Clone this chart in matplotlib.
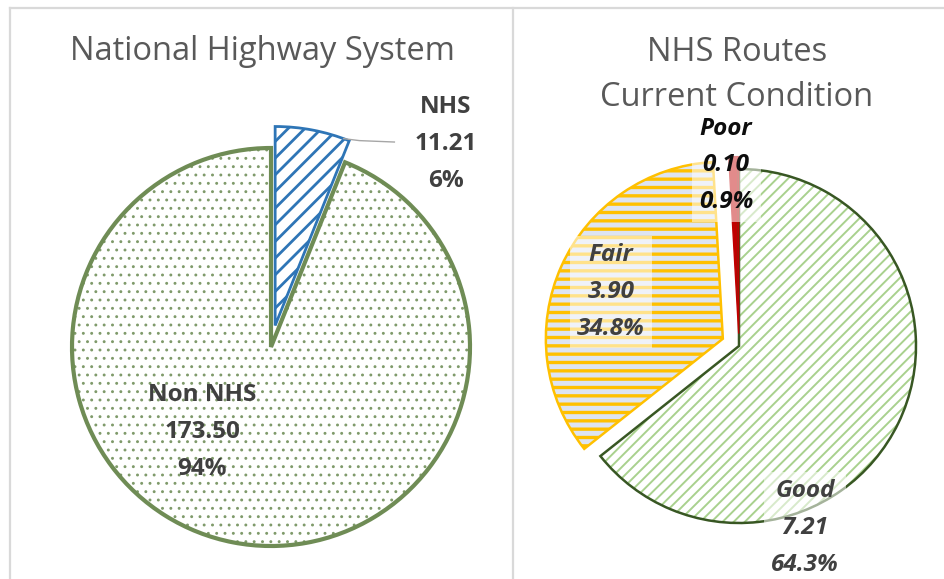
import numpy as np
import matplotlib
matplotlib.use("Agg")
import matplotlib.pyplot as plt
from matplotlib.lines import Line2D

# ---------------- data ----------------
left_title = "National Highway System"
left_labels = ["NHS", "Non NHS"]
left_values = [11.21, 173.50]

right_title = "NHS Routes\nCurrent Condition"
right_labels = ["Good", "Fair", "Poor"]
right_values = [7.21, 3.90, 0.10]

# ---------------- style / layout ----------------
W, H, DPI = 945, 579, 100
FONT = ["Open Sans", "DejaVu Sans"]
plt.rcParams["font.family"] = FONT

TITLE_COLOR = "#595959"
LABEL_COLOR = "#404040"
FRAME_COLOR = "#d9d9d9"
LIM = 1.4
LABEL_SIZE = 17.5
LABEL_LS = 1.72

left_explode = [0.11, 0.0]
left_face = ["white", "white"]
left_hatch = ["//", ".."]
left_hatch_color = ["#2e75b6", "#7f9a6a"]
left_hatch_lw = [2.0, 0.9]
left_edge = ["#2e75b6", "#6f8c55"]
left_edge_lw = [2.0, 3.0]
left_label_pos = [(0.88, 1.02), (-0.345, -0.425)]

right_explode = [0.0, 0.10, 0.07]
right_face = ["white", "#dde4f2", "#c00000"]
right_hatch = ["///", "--", None]
right_hatch_color = ["#a9d18e", "#ffc000", "#c00000"]
right_hatch_lw = [1.4, 2.4, 1.0]
right_edge = ["#385723", "#ffc000", "#c00000"]
right_edge_lw = [1.8, 1.8, 1.0]
right_label_pos = [(0.373, -1.028), (-0.723, 0.305), (-0.073, 1.02)]
right_label_colors = [LABEL_COLOR, LABEL_COLOR, "#0d0d0d"]

fig = plt.figure(figsize=(W / DPI, H / DPI), dpi=DPI)
fig.patch.set_facecolor("white")


def pie_axes(cx, cy_top, r_px):
    size = 2 * LIM * r_px
    ax = fig.add_axes([(cx - size / 2) / W, (H - cy_top - size / 2) / H, size / W, size / H])
    ax.axis("off")
    return ax


def draw_pie(ax, values, explode, face, hatch, hcol, hlw, edge, elw):
    wedges, _ = ax.pie(values, explode=explode, startangle=90, counterclock=False,
                       radius=1.0, center=(0, 0), frame=False)
    for w, fc, ht, hc, hl in zip(wedges, face, hatch, hcol, hlw):
        w.set_facecolor(fc)
        w.set_edgecolor(hc)
        w.set_linewidth(0)
        if ht:
            w.set_hatch(ht)
            if hasattr(w, "set_hatch_linewidth"):
                w.set_hatch_linewidth(hl)
    outl, _ = ax.pie(values, explode=explode, startangle=90, counterclock=False,
                     radius=1.0, center=(0, 0), frame=False)
    for w, ec, lw in zip(outl, edge, elw):
        w.set_fill(False)
        w.set_edgecolor(ec)
        w.set_linewidth(lw)
        w.set_joinstyle("miter")
    ax.set_xlim(-LIM, LIM)
    ax.set_ylim(-LIM, LIM)
    ax.set_aspect("equal")
    ax.axis("off")
    return wedges


# ---------------- left pie ----------------
axL = pie_axes(271, 347, 199)
wl = draw_pie(axL, left_values, left_explode, left_face, left_hatch,
              left_hatch_color, left_hatch_lw, left_edge, left_edge_lw)
tot = sum(left_values)
for lab, v, pos in zip(left_labels, left_values, left_label_pos):
    axL.text(pos[0], pos[1], f"{lab}\n{v:.2f}\n{100 * v / tot:.0f}%", ha="center", va="center",
             fontsize=LABEL_SIZE, fontweight="bold", color=LABEL_COLOR, linespacing=LABEL_LS)
# leader line for NHS
w0 = wl[0]
ang = np.deg2rad(w0.theta1 + 0.08 * (w0.theta2 - w0.theta1))
p0 = (w0.center[0] + np.cos(ang), w0.center[1] + np.sin(ang))
axL.plot([p0[0], p0[0] + 0.08, 0.62], [p0[1], p0[1] - 0.01, 1.03], color="#a6a6a6", lw=1.0)
fig.text(262 / W, 1 - 52 / H, left_title, ha="center", va="center", fontsize=23.5,
         color=TITLE_COLOR)

# ---------------- right pie ----------------
axR = pie_axes(739, 346, 177)
draw_pie(axR, right_values, right_explode, right_face, right_hatch,
         right_hatch_color, right_hatch_lw, right_edge, right_edge_lw)
tot = sum(right_values)
for lab, v, pos, c in zip(right_labels, right_values, right_label_pos, right_label_colors):
    axR.text(pos[0], pos[1], f"{lab}\n{v:.2f}\n{100 * v / tot:.1f}%", ha="center", va="center",
             fontsize=LABEL_SIZE, fontweight="bold", fontstyle="italic", color=c,
             linespacing=LABEL_LS,
             bbox=dict(boxstyle="square,pad=0.3", fc="white", ec="none", alpha=0.55))
fig.text(737 / W, 1 - 75 / H, right_title, ha="center", va="center", fontsize=23.5,
         color=TITLE_COLOR, linespacing=1.5)

# ---------------- frame ----------------
for xs, ys in [((10, W), (8, 8)), ((10, 10), (8, H)), ((513, 513), (8, H))]:
    fig.add_artist(Line2D([x / W for x in xs], [1 - y / H for y in ys], color=FRAME_COLOR,
                          lw=1.6, transform=fig.transFigure))

fig.savefig("out.png", dpi=DPI)
